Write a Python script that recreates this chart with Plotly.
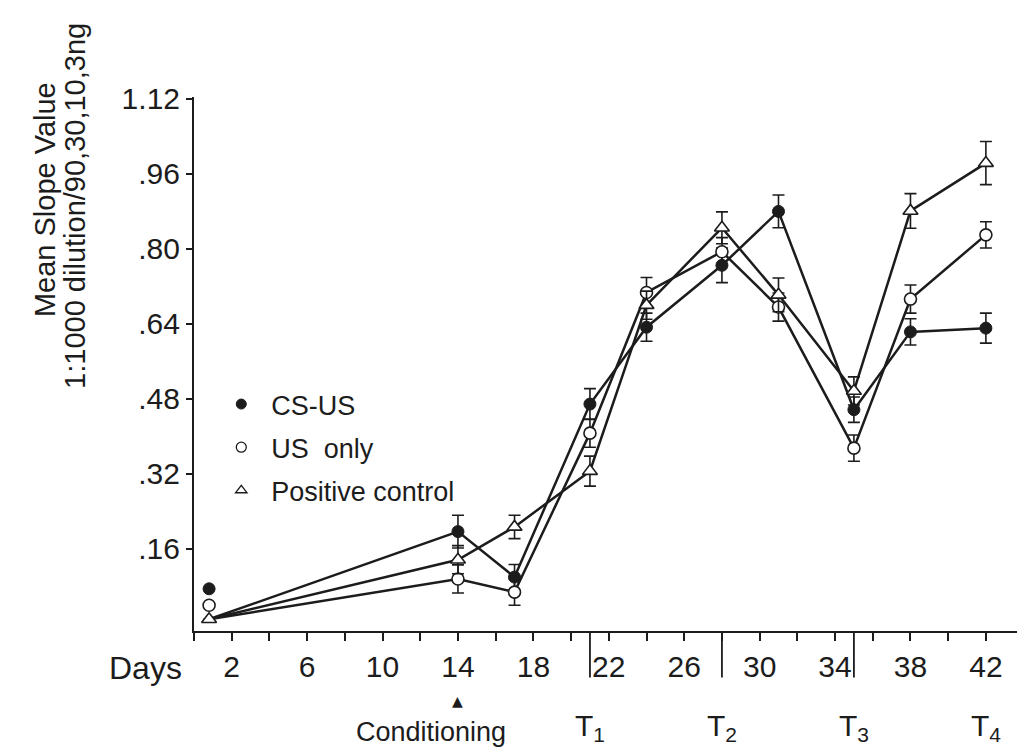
import plotly.graph_objects as go

# ---------------- data ----------------
days = [0.8, 14, 17, 21, 24, 28, 31, 35, 38, 42]

cs_us = [0.075, 0.197, 0.100, 0.469, 0.633, 0.765, 0.880, 0.457, 0.623, 0.631]
cs_us_err = [0, 0.035, 0.027, 0.033, 0.030, 0.037, 0.035, 0.027, 0.028, 0.032]

us_only = [0.040, 0.096, 0.068, 0.407, 0.707, 0.794, 0.676, 0.375, 0.693, 0.830]
us_only_err = [0, 0.030, 0.028, 0.030, 0.032, 0.030, 0.030, 0.028, 0.030, 0.028]

pos_ctrl = [0.010, 0.137, 0.207, 0.326, 0.680, 0.845, 0.702, 0.497, 0.881, 0.983]
pos_ctrl_err = [0, 0.030, 0.025, 0.032, 0.030, 0.034, 0.036, 0.030, 0.037, 0.046]

series_names = ["CS-US", "US  only", "Positive control"]

y_tickvals = [0.16, 0.32, 0.48, 0.64, 0.80, 0.96, 1.12]
y_ticktext = [".16", ".32", ".48", ".64", ".80", ".96", "1.12"]
x_tickvals = [2, 6, 10, 14, 18, 22, 26, 30, 34, 38, 42]
x_ticktext = ["2", "6", "10", "14", "18", "22", "26", "30", "34", "38", "42"]

test_days = [21, 28, 35, 42]
test_labels = ["T<sub>1</sub>", "T<sub>2</sub>", "T<sub>3</sub>", "T<sub>4</sub>"]
conditioning_day = 14

FONT = "Liberation Sans, Arial, sans-serif"
INK = "#1c1c1c"

fig = go.Figure()

# all three lines start from the common day-1 baseline (positive-control point)
baseline = pos_ctrl[0]
for vals in (cs_us, us_only, pos_ctrl):
    fig.add_trace(go.Scatter(
        x=days, y=[baseline] + vals[1:], mode="lines",
        line=dict(color=INK, width=2.5), showlegend=False, hoverinfo="skip"))

marker_styles = [
    dict(symbol="circle", size=12, color=INK, line=dict(color=INK, width=1)),
    dict(symbol="circle", size=12, color="white", line=dict(color=INK, width=1.6)),
    dict(symbol="triangle-up", size=13, color="white", line=dict(color=INK, width=1.6)),
]
for vals, errs, ms in zip((cs_us, us_only, pos_ctrl),
                          (cs_us_err, us_only_err, pos_ctrl_err), marker_styles):
    fig.add_trace(go.Scatter(
        x=days, y=vals, mode="markers", marker=ms, showlegend=False,
        error_y=dict(type="data", array=errs, visible=True,
                     color=INK, thickness=1.6, width=6)))

# legend-only traces
legend_styles = [
    dict(symbol="circle", size=10, color=INK, line=dict(color=INK, width=1)),
    dict(symbol="circle", size=10, color="white", line=dict(color=INK, width=1.3)),
    dict(symbol="triangle-up", size=10, color="white", line=dict(color=INK, width=1.3)),
]
for i, (name, ms) in enumerate(zip(series_names, legend_styles)):
    fig.add_trace(go.Scatter(
        x=[None], y=[None], mode="markers", marker=ms, name=name,
        legendgroup=f"g{i}", showlegend=True))

# tall separator lines at test days T1..T3
for d in test_days[:3]:
    fig.add_shape(type="line", xref="x", yref="paper", x0=d, x1=d,
                  y0=0, y1=-0.087, line=dict(color=INK, width=1.8))

# test labels
for d, lab in zip(test_days, test_labels):
    fig.add_annotation(x=d, xref="x", y=-0.180, yref="paper", text=lab,
                       showarrow=False, font=dict(family=FONT, size=30, color=INK),
                       xanchor="center", yanchor="middle")

# conditioning marker
fig.add_annotation(x=conditioning_day, xref="x", y=-0.132, yref="paper", text="▲",
                   showarrow=False, font=dict(family="DejaVu Sans", size=14, color=INK),
                   xanchor="center", yanchor="middle")
fig.add_annotation(x=conditioning_day, xref="x", xshift=-27, y=-0.19, yref="paper",
                   text="Conditioning", showarrow=False,
                   font=dict(family=FONT, size=27, color=INK),
                   xanchor="center", yanchor="middle")

# "Days" label
fig.add_annotation(x=-0.012, xref="paper", y=-0.07, yref="paper", text="Days",
                   showarrow=False, font=dict(family=FONT, size=32, color=INK),
                   xanchor="right", yanchor="middle")

# y-axis titles
fig.add_annotation(x=-0.181, xref="paper", y=0.807, yref="paper",
                   text="Mean Slope Value", textangle=-90, showarrow=False,
                   font=dict(family=FONT, size=29, color=INK),
                   xanchor="center", yanchor="middle")
fig.add_annotation(x=-0.144, xref="paper", y=0.797, yref="paper",
                   text="1:1000 dilution/90,30,10,3ng", textangle=-90, showarrow=False,
                   font=dict(family=FONT, size=29, color=INK),
                   xanchor="center", yanchor="middle")

fig.update_layout(
    width=1017, height=749,
    margin=dict(l=194, r=0, t=97, b=118),
    paper_bgcolor="white", plot_bgcolor="white",
    font=dict(family=FONT, color=INK),
    legend=dict(x=0.021, y=0.47, xanchor="left", yanchor="top",
                font=dict(family=FONT, size=27, color=INK),
                bgcolor="rgba(0,0,0,0)", tracegroupgap=5, traceorder="grouped",
                itemwidth=50),
    xaxis=dict(range=[0, 43.65], showgrid=False, zeroline=False,
               showline=True, linecolor=INK, linewidth=2,
               tickvals=x_tickvals, ticktext=x_ticktext,
               ticks="outside", ticklen=8, tickwidth=1.5, tickcolor=INK,
               tickfont=dict(family=FONT, size=30, color=INK),
               minor=dict(dtick=2, tick0=0, ticks="outside", ticklen=8,
                          tickwidth=1.5, tickcolor=INK, showgrid=False)),
    yaxis=dict(range=[-0.015, 1.124], showgrid=False, zeroline=False,
               showline=True, linecolor=INK, linewidth=2,
               tickvals=y_tickvals, ticktext=y_ticktext,
               ticks="outside", ticklen=6, tickwidth=1.5, tickcolor=INK,
               tickfont=dict(family=FONT, size=30, color=INK)),
)

fig.write_html("out.html")
